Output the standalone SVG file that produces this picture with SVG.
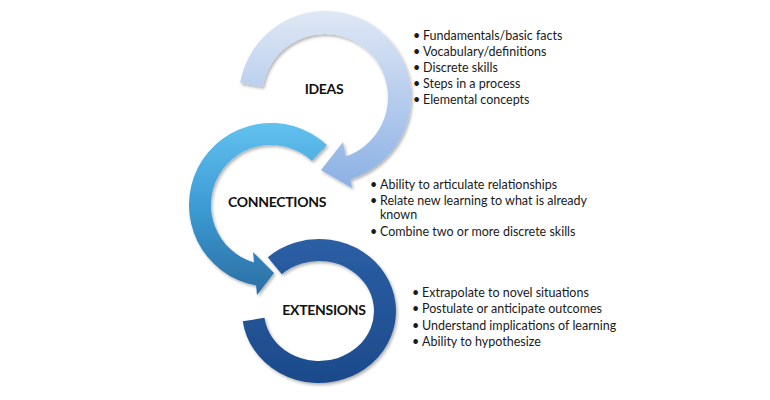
<svg xmlns="http://www.w3.org/2000/svg" width="770" height="400" viewBox="0 0 770 400">
  <style>
    .label { font-family: Lato, "Open Sans", "Liberation Sans", sans-serif; font-weight: 700; font-size: 14px; fill: #111; text-anchor: middle; letter-spacing: -0.3px; }
    .item { font-family: Lato, "Open Sans", "Liberation Sans", sans-serif; font-size: 12.5px; fill: #1a1a1a; }
  </style>
  <defs>
    <linearGradient id="gIdeas" x1="0" y1="0" x2="0" y2="1">
      <stop offset="0" stop-color="#dfe8f5"/>
      <stop offset="0.5" stop-color="#b6cced"/>
      <stop offset="1" stop-color="#8ab0e4"/>
    </linearGradient>
    <linearGradient id="gConn" x1="0" y1="0" x2="0" y2="1">
      <stop offset="0" stop-color="#62c1ef"/>
      <stop offset="0.5" stop-color="#3c9ad3"/>
      <stop offset="1" stop-color="#2b6ea3"/>
    </linearGradient>
    <linearGradient id="gExt" gradientUnits="userSpaceOnUse" x1="0" y1="240" x2="0" y2="384">
      <stop offset="0" stop-color="#2b5ea4"/>
      <stop offset="1" stop-color="#1d4a8b"/>
    </linearGradient>
    <filter id="shadow" x="-20%" y="-20%" width="140%" height="140%">
      <feDropShadow dx="1.5" dy="2" stdDeviation="1.5" flood-color="#000" flood-opacity="0.3"/>
    </filter>
  </defs>
  <rect width="770" height="400" fill="#ffffff"/>

  <g id="connectors">
    <path id="arrow-extensions" d="M 274.8,265.7 A 66 61 0 1 1 253.6,319.5" fill="none" stroke="url(#gExt)" stroke-width="22" filter="url(#shadow)"/>
    <path id="arrow-connections" d="M 326.9,145 A 82 82 0 1 0 256.1,285.6 L 257,295 L 274,273 L 253,252 L 254,262.5 A 60 60 0 1 1 311.9,161.1 Z" fill="url(#gConn)" filter="url(#shadow)"/>
    <path id="arrow-ideas" d="M 240.2,83 A 86 86 0 1 1 350.3,179.2 L 352,188 L 321,170 L 343,142 L 345.8,156.5 A 63 63 0 1 0 262.8,86.7 Z" fill="url(#gIdeas)" filter="url(#shadow)"/>
  </g>

  <g id="ideas">
    <text class="label" x="324" y="94">IDEAS</text>
    <text class="item" x="413" y="40">•<tspan x="423">Fundamentals/basic facts</tspan></text>
    <text class="item" x="413" y="56">•<tspan x="423">Vocabulary/definitions</tspan></text>
    <text class="item" x="413" y="72">•<tspan x="423">Discrete skills</tspan></text>
    <text class="item" x="413" y="88">•<tspan x="423">Steps in a process</tspan></text>
    <text class="item" x="413" y="104">•<tspan x="423">Elemental concepts</tspan></text>
  </g>

  <g id="connections">
    <text class="label" x="277" y="207">CONNECTIONS</text>
    <text class="item" x="370" y="189">•<tspan x="380">Ability to articulate relationships</tspan></text>
    <text class="item" x="370" y="205">•<tspan x="380">Relate new learning to what is already</tspan></text>
    <text class="item" x="380" y="219">known</text>
    <text class="item" x="370" y="236">•<tspan x="380">Combine two or more discrete skills</tspan></text>
  </g>

  <g id="extensions">
    <text class="label" x="324" y="315">EXTENSIONS</text>
    <text class="item" x="412" y="297">•<tspan x="422">Extrapolate to novel situations</tspan></text>
    <text class="item" x="412" y="313">•<tspan x="422">Postulate or anticipate outcomes</tspan></text>
    <text class="item" x="412" y="330">•<tspan x="422">Understand implications of learning</tspan></text>
    <text class="item" x="412" y="346">•<tspan x="422">Ability to hypothesize</tspan></text>
  </g>
</svg>
